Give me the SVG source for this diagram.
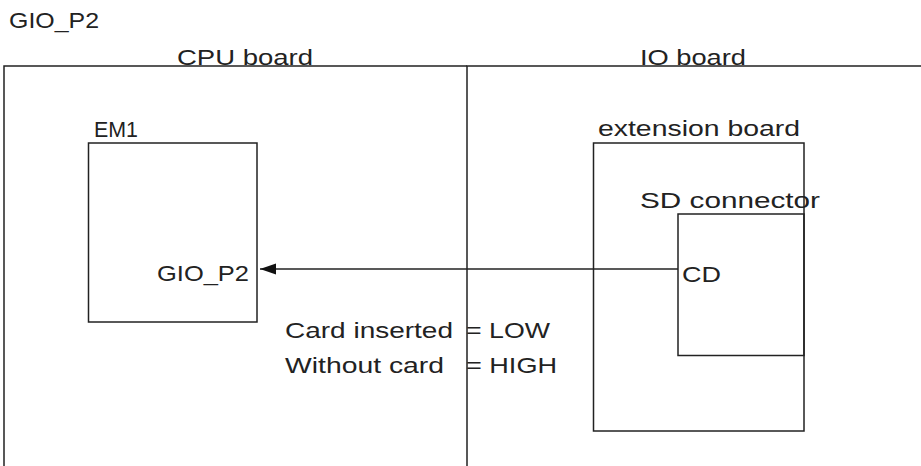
<svg xmlns="http://www.w3.org/2000/svg" width="921" height="466" viewBox="0 0 921 466">
<style>
  .box{fill:none;stroke:#222;stroke-width:1.5}
  .ln{stroke:#222;stroke-width:1.5;fill:none}
  text{font-family:"Liberation Sans",Arial,sans-serif;font-size:22px;fill:#222}
</style>
<defs>
  <marker id="ah" markerWidth="16" markerHeight="12" refX="16" refY="6" orient="auto" markerUnits="userSpaceOnUse">
    <path d="M0,0.5 L16,6 L0,11.5 Z" fill="#111"/>
  </marker>
</defs>
<rect width="921" height="466" fill="#fff"/>
<text x="9" y="28" textLength="90" lengthAdjust="spacingAndGlyphs">GIO_P2</text>
<g id="cpu-board">
  <path class="ln" d="M4,466 V66 H467"/>
  <text x="177" y="65" textLength="136" lengthAdjust="spacingAndGlyphs">CPU board</text>
</g>
<g id="io-board">
  <path class="ln" d="M467,466 V66 H921"/>
  <text x="640" y="65" textLength="106" lengthAdjust="spacingAndGlyphs">IO board</text>
</g>
<g id="em1">
  <rect class="box" x="88.5" y="143" width="168.5" height="179"/>
  <text x="94" y="137" textLength="44" lengthAdjust="spacingAndGlyphs">EM1</text>
  <text x="157" y="281" textLength="92" lengthAdjust="spacingAndGlyphs">GIO_P2</text>
</g>
<g id="extension-board">
  <rect class="box" x="593.5" y="143" width="210.5" height="288"/>
  <text x="598" y="136" textLength="202" lengthAdjust="spacingAndGlyphs">extension board</text>
</g>
<g id="sd-connector">
  <rect class="box" x="678" y="214" width="126" height="141.5"/>
  <text x="640" y="208" textLength="180" lengthAdjust="spacingAndGlyphs">SD connector</text>
  <text x="682" y="282" textLength="39" lengthAdjust="spacingAndGlyphs">CD</text>
</g>
<g id="connectors">
  <line class="ln" x1="678" y1="269" x2="260" y2="269" marker-end="url(#ah)"/>
</g>
<g id="note">
  <text y="338"><tspan x="285" textLength="168" lengthAdjust="spacingAndGlyphs">Card inserted</tspan><tspan x="466" textLength="84" lengthAdjust="spacingAndGlyphs">= LOW</tspan></text>
  <text y="373"><tspan x="285" textLength="159" lengthAdjust="spacingAndGlyphs">Without card</tspan><tspan x="466" textLength="91" lengthAdjust="spacingAndGlyphs">= HIGH</tspan></text>
</g>
</svg>
